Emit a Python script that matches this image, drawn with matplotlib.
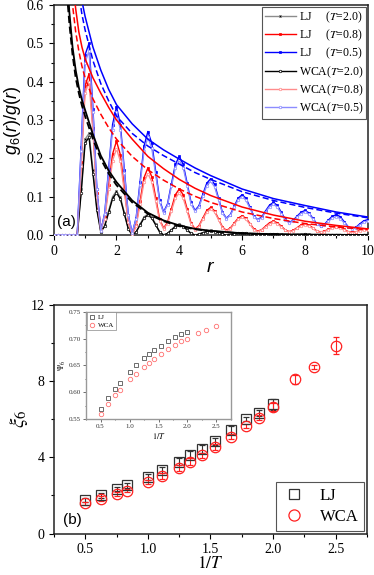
import numpy as np
import matplotlib
matplotlib.use("Agg")
import matplotlib.pyplot as plt
from matplotlib.ticker import MultipleLocator, FormatStrFormatter
from matplotlib.font_manager import FontProperties
from matplotlib.lines import Line2D

plt.rcParams['font.family'] = 'Liberation Serif'
plt.rcParams['mathtext.fontset'] = 'custom'
plt.rcParams['mathtext.it'] = 'Liberation Sans:italic'
plt.rcParams['mathtext.rm'] = 'Liberation Sans'

# ---- panel (a): g6(r)/g(r) ----
r = np.linspace(0, 10, 81)

lj_t20 = [0, 0, 0, 0, 0, 0, 0,
          .12, .25, .265, .17, .07, .01,
          .025, .063, .100, .115, .098, .058, .017, 0,
          .008, .028, .047, .055, .047, .028, .008, 0,
          .004, .014, .024, .028, .024, .014, .004, 0,
          .002, .006, .010, .012, .010, .006, .002, 0,
          .001, .003, .005, .006, .005, .003, .001, 0,
          0, .002, .003, .003, .003, .002, 0, 0,
          0, .001, .002, .002, .002, .001, 0, 0,
          0, .0005, .001, .001, .001, .0005, 0, 0,
          0, .0005, .001, .001]
wca_t20 = [0, 0, 0, 0, 0, 0, 0,
           .11, .24, .255, .16, .065, .008,
           .023, .059, .095, .11, .094, .055, .016, 0,
           .008, .026, .044, .052, .044, .026, .008, 0,
           .004, .013, .022, .026, .022, .013, .004, 0,
           .002, .006, .009, .011, .009, .006, .002, 0,
           .001, .003, .004, .005, .004, .003, .001, 0,
           0, .001, .002, .003, .002, .001, 0, 0,
           0, .001, .001, .002, .001, .001, 0, 0,
           0, 0, .001, .001, .001, 0, 0, 0,
           0, 0, .001, .001]
lj_t08 = [0, 0, 0, 0, 0, 0, 0,
          .19, .39, .42, .28, .11, .015,
          .049, .13, .211, .245, .209, .123, .036, 0,
          .026, .088, .149, .175, .152, .097, .041, .018,
          .033, .069, .105, .12, .105, .068, .031, .016,
          .024, .044, .064, .072, .063, .042, .021, .012,
          .018, .031, .044, .05, .044, .03, .016, .01,
          .014, .023, .032, .036, .032, .023, .013, .009,
          .012, .019, .026, .029, .026, .019, .011, .008,
          .010, .015, .020, .022, .020, .015, .009, .007,
          .008, .012, .015, .016]
wca_t08 = [0, 0, 0, 0, 0, 0, 0,
           .18, .37, .40, .27, .10, .012,
           .043, .119, .194, .225, .192, .113, .033, 0,
           .023, .08, .137, .16, .139, .088, .037, .016,
           .030, .063, .096, .11, .096, .062, .028, .014,
           .022, .041, .060, .068, .060, .040, .019, .011,
           .016, .029, .041, .046, .041, .028, .014, .009,
           .013, .021, .029, .033, .029, .021, .012, .008,
           .011, .017, .023, .026, .023, .017, .010, .007,
           .009, .014, .018, .02, .018, .013, .008, .006,
           .007, .010, .013, .014]
lj_t05 = [0, 0, 0, 0, 0, 0, 0,
          .23, .47, .50, .33, .12, .01,
          .057, .172, .288, .335, .287, .17, .053, .005,
          .044, .138, .231, .27, .239, .165, .091, .06,
          .081, .133, .184, .205, .184, .135, .085, .064,
          .076, .106, .135, .147, .132, .096, .059, .044,
          .053, .075, .096, .105, .096, .073, .049, .04,
          .047, .063, .078, .085, .077, .059, .041, .033,
          .038, .049, .059, .064, .058, .044, .030, .024,
          .028, .039, .049, .053, .048, .035, .022, .017,
          .020, .029, .037, .04]
wca_t05 = [0, 0, 0, 0, 0, 0, 0,
           .22, .45, .48, .32, .12, .01,
           .055, .165, .275, .32, .274, .163, .051, .005,
           .042, .13, .219, .255, .226, .157, .087, .058,
           .078, .127, .175, .195, .176, .129, .081, .062,
           .073, .101, .129, .14, .126, .092, .057, .043,
           .051, .072, .092, .10, .091, .070, .048, .039,
           .045, .060, .074, .08, .073, .056, .039, .032,
           .036, .046, .056, .06, .055, .042, .028, .023,
           .027, .036, .044, .048, .043, .032, .021, .016,
           .019, .026, .033, .036]

# envelopes (solid: LJ, dashed: WCA)
env_r = [0.45, 0.5, 0.6, 0.7, 0.8, 0.9, 1.0, 1.25, 1.5, 1.75, 2.0, 2.5,
         3.0, 3.5, 4.0, 4.5, 5.0, 6.0, 7.0, 8.0, 9.0, 10.0]
env_lj_t20 = [0.64, 0.58, 0.49, 0.43, 0.385, 0.352, 0.326, 0.262, 0.207, 0.168, 0.138, 0.09,
              0.058, 0.038, 0.025, 0.016, 0.011, 0.0045, 0.002, 0.0009, 0.0004, 0.0002]
env_wca_t20 = [0.6, 0.55, 0.47, 0.41, 0.37, 0.337, 0.31, 0.25, 0.198, 0.16, 0.13, 0.085,
               0.055, 0.036, 0.023, 0.015, 0.01, 0.004, 0.0018, 0.0008, 0.0004, 0.0002]
env_lj_t08 = [0.85, 0.78, 0.67, 0.59, 0.53, 0.49, 0.46, 0.41, 0.37, 0.333, 0.30, 0.25,
              0.205, 0.173, 0.145, 0.122, 0.103, 0.073, 0.052, 0.036, 0.025, 0.016]
env_wca_t08 = [0.8, 0.71, 0.6, 0.53, 0.48, 0.44, 0.41, 0.355, 0.315, 0.28, 0.25, 0.205,
               0.17, 0.143, 0.12, 0.101, 0.085, 0.06, 0.043, 0.03, 0.021, 0.014]
env_lj_t05 = [1.0, 0.95, 0.84, 0.74, 0.66, 0.61, 0.57, 0.49, 0.43, 0.38, 0.34, 0.29,
              0.25, 0.222, 0.198, 0.175, 0.155, 0.12, 0.095, 0.077, 0.06, 0.047]
env_wca_t05 = [0.95, 0.9, 0.8, 0.7, 0.63, 0.575, 0.535, 0.455, 0.395, 0.35, 0.31, 0.265,
               0.232, 0.207, 0.185, 0.163, 0.145, 0.113, 0.09, 0.072, 0.057, 0.045]

# ---- panel (b): xi6 vs 1/T ----
inv_t_lj = [0.5, 0.625, 0.75, 0.833, 1.0, 1.111, 1.25, 1.333, 1.429, 1.538, 1.667, 1.786, 1.887, 2.0]
inv_t_wca = inv_t_lj + [2.174, 2.326, 2.5]
xi_lj = [1.75, 2.01, 2.33, 2.53, 2.97, 3.32, 3.78, 4.15, 4.44, 4.84, 5.45, 6.0, 6.32, 6.79]
xi_lj_err = [0.1, 0.12, 0.12, 0.12, 0.15, 0.15, 0.2, 0.2, 0.2, 0.2, 0.2, 0.1, 0.15, 0.3]
xi_wca = [1.58, 1.84, 2.08, 2.26, 2.71, 3.02, 3.45, 3.78, 4.10, 4.53, 5.09, 5.64, 6.08, 6.65,
          8.09, 8.75, 9.86]
xi_wca_err = [0.1, 0.12, 0.1, 0.1, 0.12, 0.15, 0.15, 0.2, 0.15, 0.15, 0.15, 0.1, 0.12, 0.2,
              0.25, 0.1, 0.45]
psi_lj = [0.5686, 0.589, 0.607, 0.618, 0.6386, 0.650, 0.664, 0.671, 0.678, 0.687, 0.696,
          0.703, 0.708, 0.713]
psi_wca = [0.560, 0.578, 0.595, 0.605, 0.624, 0.635, 0.648, 0.655, 0.663, 0.671, 0.681,
           0.689, 0.695, 0.700, 0.711, 0.716, 0.723]

fig = plt.figure(figsize=(3.74, 5.75), dpi=100)
ax1 = fig.add_axes([0.1436, 0.5913, 0.8394, 0.4])
ax2 = fig.add_axes([0.1444, 0.072, 0.8366, 0.3976])
ax3 = fig.add_axes([0.23, 0.2708, 0.3876, 0.1871])

serif_math = dict(math_fontfamily='stix')

curves = [
    (lj_t20, '#8c8c8c', 'k', 's', 'LJ     ($T$=2.0)'),
    (lj_t08, '#ff0000', '#ff0000', 's', 'LJ     ($T$=0.8)'),
    (lj_t05, '#0000ff', '#0000ff', 's', 'LJ     ($T$=0.5)'),
    (wca_t20, '#000000', '#ffffff', 'o', 'WCA($T$=2.0)'),
    (wca_t08, '#ff8c8c', '#ffffff', 'o', 'WCA($T$=0.8)'),
    (wca_t05, '#8c8cff', '#ffffff', 'o', 'WCA($T$=0.5)'),
]
for vals, col, face, mk, lab in curves:
    ax1.plot(r, vals, color=col, lw=1.0, marker=mk, ms=1.8, mfc=face, mec=col,
             mew=0.5, label=lab, zorder=3)

ax1.plot(env_r, env_lj_t20, color='k', lw=1.3, zorder=4)
ax1.plot(env_r, env_wca_t20, color='k', lw=1.3, ls=(0, (4, 2)), zorder=4)
ax1.plot(env_r, env_lj_t08, color='#ff0000', lw=1.1, zorder=4)
ax1.plot(env_r, env_wca_t08, color='#ff0000', lw=1.1, ls=(0, (4, 2)), zorder=4)
ax1.plot(env_r, env_lj_t05, color='#0000ff', lw=1.1, zorder=4)
ax1.plot(env_r, env_wca_t05, color='#0000ff', lw=1.1, ls=(0, (4, 2)), zorder=4)

ax1.set_xlim(0, 10)
ax1.set_ylim(0, 0.6)
ax1.xaxis.set_major_locator(MultipleLocator(2))
ax1.xaxis.set_minor_locator(MultipleLocator(1))
ax1.yaxis.set_major_locator(MultipleLocator(0.1))
ax1.yaxis.set_minor_locator(MultipleLocator(0.05))
ax1.yaxis.set_major_formatter(FormatStrFormatter('%.1f'))
ax1.set_xlabel('$r$', fontsize=14, labelpad=1)
ax1.set_ylabel('$g_6(r)/g(r)$', fontsize=13, labelpad=3)
ax1.text(0.01, 0.025, '(a)', transform=ax1.transAxes, fontsize=11,
         family='Liberation Sans', ha='left', va='bottom')
leg_prop = FontProperties(family='Liberation Serif', size=8.5, math_fontfamily='stix')
leg1 = ax1.legend(loc='upper right', prop=leg_prop, handlelength=2.6, handletextpad=0.3,
                  labelspacing=0.25, borderpad=0.2, borderaxespad=0.15, fancybox=False,
                  edgecolor='#555555', framealpha=1, numpoints=1)
leg1.get_frame().set_linewidth(0.8)

# main panel (b)
ax2.errorbar(inv_t_lj, xi_lj, yerr=xi_lj_err, fmt='s', ms=6.5, mfc='none', mec='#333333',
             mew=0.9, ecolor='#333333', elinewidth=0.8, capsize=2.5, capthick=0.8)
ax2.errorbar(inv_t_wca, xi_wca, yerr=xi_wca_err, fmt='o', ms=7.5, mfc='none', mec='#ff2020',
             mew=0.9, ecolor='#ff2020', elinewidth=0.8, capsize=2.5, capthick=0.8)
ax2.set_xlim(0.25, 2.75)
ax2.set_ylim(0, 12)
ax2.xaxis.set_major_locator(MultipleLocator(0.5))
ax2.xaxis.set_minor_locator(MultipleLocator(0.25))
ax2.yaxis.set_major_locator(MultipleLocator(4))
ax2.yaxis.set_minor_locator(MultipleLocator(2))
ax2.set_xlabel(r'$1/T$', fontsize=12.5, labelpad=0, **serif_math)
ax2.set_ylabel(r'$\xi_6$', fontsize=15, labelpad=0, **serif_math)
ax2.text(0.03, 0.03, '(b)', transform=ax2.transAxes, fontsize=11,
         family='Liberation Sans', ha='left', va='bottom')
handles2 = [
    Line2D([], [], ls='none', marker='s', ms=7, mfc='none', mec='#333333', mew=0.9),
    Line2D([], [], ls='none', marker='o', ms=8, mfc='none', mec='#ff2020', mew=0.9),
]
leg2 = ax2.legend(handles2, ['LJ', 'WCA'], loc='lower right',
                  prop=FontProperties(family='Liberation Serif', size=12),
                  handletextpad=0.8, labelspacing=0.3, borderpad=0.35, borderaxespad=0.15,
                  fancybox=False, edgecolor='#555555', framealpha=1, handlelength=1.5)
leg2.get_frame().set_linewidth(0.8)

# inset
ax3.plot(inv_t_lj, psi_lj, 's', ms=3, mfc='none', mec='#555555', mew=0.6, label='LJ')
ax3.plot(inv_t_wca, psi_wca, 'o', ms=3.2, mfc='none', mec='#ff7070', mew=0.6, label='WCA')
ax3.set_xlim(0.25, 2.75)
ax3.set_ylim(0.55, 0.75)
ax3.xaxis.set_major_locator(MultipleLocator(0.5))
ax3.xaxis.set_minor_locator(MultipleLocator(0.25))
ax3.yaxis.set_major_locator(MultipleLocator(0.05))
ax3.yaxis.set_minor_locator(MultipleLocator(0.025))
ax3.tick_params(which='both', labelsize=5, pad=1.5, length=2, width=0.5, colors='#333333')
ax3.tick_params(which='minor', length=1)
ax3.yaxis.set_major_formatter(FormatStrFormatter('%.2f'))
ax3.set_xlabel(r'$1/T$', fontsize=6, labelpad=1, **serif_math)
ax3.set_ylabel(r'$\Psi_6$', fontsize=6, labelpad=1, **serif_math)
leg3 = ax3.legend(loc='upper left', prop=FontProperties(family='Liberation Serif', size=5),
                  handletextpad=0.3, labelspacing=0.3, borderpad=0.3, borderaxespad=0.1,
                  fancybox=False, edgecolor='#888888', framealpha=1, handlelength=1.0)
leg3.get_frame().set_linewidth(0.5)
for sp in ax3.spines.values():
    sp.set_color('#999999')
    sp.set_linewidth(1.0)

for ax in (ax1, ax2):
    ax.tick_params(which='both', direction='out', labelsize=10, width=0.8, top=False, right=False)
    ax.tick_params(which='major', length=3.5)
    ax.tick_params(which='minor', length=2)
    for sp in ax.spines.values():
        sp.set_linewidth(1.1)
        sp.set_color('#222222')

fig.savefig('out.png', dpi=100)
